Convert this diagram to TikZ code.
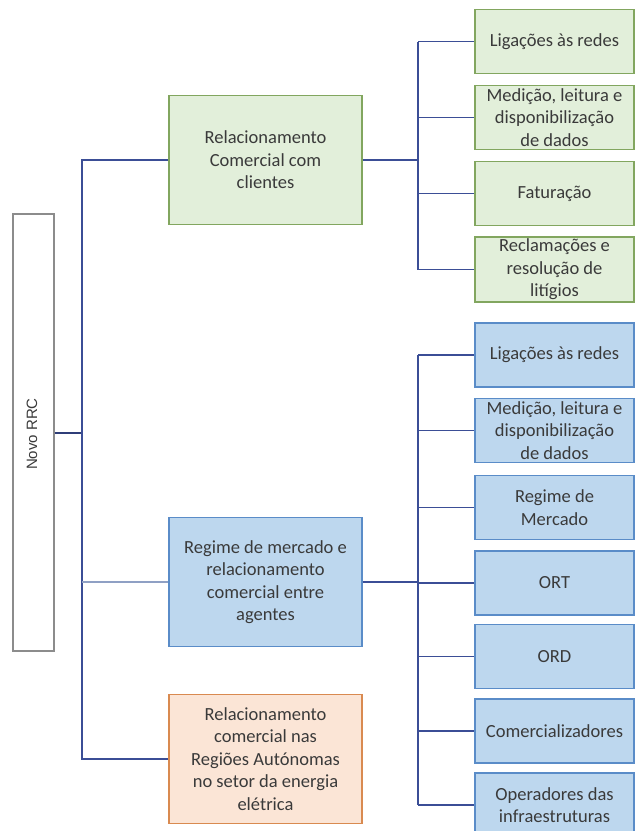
\documentclass[tikz,border=0pt]{standalone}
\usepackage{fontspec}
\setmainfont{Carlito}
\newfontfamily\rootfont{Liberation Sans}
\usepackage{tikz}

\definecolor{linkblue}{HTML}{3B4E96}
\definecolor{linkpale}{HTML}{8FA0C4}
\definecolor{greenfill}{HTML}{E2EFDA}
\definecolor{greenedge}{HTML}{82A65F}
\definecolor{bluefill}{HTML}{BDD7EE}
\definecolor{blueedge}{HTML}{5A8CC8}
\definecolor{orangefill}{HTML}{FBE5D6}
\definecolor{orangeedge}{HTML}{D98A50}
\definecolor{txt}{HTML}{3A3A3A}

\tikzset{
  box/.style={draw, line width=1.3pt, align=center, inner sep=2pt, text=txt,
    font=\fontsize{18.5}{22.4}\selectfont},
  midbox/.style={box, minimum width=193pt, minimum height=129pt},
  leafbox/.style={box, minimum width=159pt, minimum height=64pt},
  greenbox/.style={fill=greenfill, draw=greenedge},
  bluebox/.style={fill=bluefill, draw=blueedge},
  orangebox/.style={fill=orangefill, draw=orangeedge},
  link/.style={draw=linkblue, line width=1.2pt}
}

\begin{document}
\begin{tikzpicture}[x=1pt, y=-1pt]
    \useasboundingbox (0,0) rectangle (635,831);

    % Root
    \node[draw=black!45, line width=1.2pt, minimum width=41pt, minimum height=437pt,
      inner sep=0pt] (root) at (33.5, 432.5) {};
    \node[rotate=90, inner sep=0pt, text=txt] (rootlabel) at (32, 434)
      {\rootfont\fontsize{15}{18}\selectfont Novo RRC};

    % Second level
    \node[midbox, greenbox] (rcc) at (265.5, 160) {Relacionamento\\Comercial com\\clientes};
    \node[midbox, bluebox] (rm) at (265.5, 582) {Regime de mercado e\\relacionamento\\comercial entre\\agentes};
    \node[midbox, orangebox] (ra) at (265.5, 759) {Relacionamento\\comercial nas\\Regiões Autónomas\\no setor da energia\\elétrica};

    % Leaves, green branch
    \node[leafbox, greenbox] (g1) at (554.5, 41.5) {Ligações às redes};
    \node[leafbox, greenbox] (g2) at (554.5, 117.5) {Medição, leitura e\\disponibilização\\de dados};
    \node[leafbox, greenbox] (g3) at (554.5, 193.5) {Faturação};
    \node[leafbox, greenbox] (g4) at (554.5, 269.5) {Reclamações e\\resolução de\\litígios};

    % Leaves, blue branch
    \node[leafbox, bluebox] (b1) at (554.5, 355) {Ligações às redes};
    \node[leafbox, bluebox] (b2) at (554.5, 430.5) {Medição, leitura e\\disponibilização\\de dados};
    \node[leafbox, bluebox] (b3) at (554.5, 507.5) {Regime de\\Mercado};
    \node[leafbox, bluebox] (b4) at (554.5, 583) {ORT};
    \node[leafbox, bluebox] (b5) at (554.5, 656.5) {ORD};
    \node[leafbox, bluebox] (b6) at (554.5, 731) {Comercializadores};
    \node[leafbox, bluebox] (b7) at (554.5, 805) {Operadores das\\infraestruturas};

    % Bus lines
    \coordinate (busL) at (82, 0);
    \coordinate (busR) at (418, 0);

    % Root to second level
    \draw[draw=linkblue!80!black, line width=2pt] (root.east) -- (root.east -| busL);
    \draw[link] (rcc.west) -- (rcc.west -| busL) -- (ra.west -| busL) -- (ra.west);
    \draw[draw=linkpale, line width=1.2pt] (rm.west -| busL) -- (rm.west);

    % Second level to leaves
    \draw[link] (rcc.east) -- (rcc.east -| busR);
    \draw[link] (g1.west -| busR) -- (g4.west -| busR);
    \foreach \n in {g1,g2,g3,g4}
      \draw[link] (\n.west -| busR) -- (\n.west);
    \draw[link] (rm.east) -- (rm.east -| busR);
    \draw[link] (b1.west -| busR) -- (b7.west -| busR);
    \foreach \n in {b1,b2,b3,b4,b5,b6,b7}
      \draw[link] (\n.west -| busR) -- (\n.west);
\end{tikzpicture}
\end{document}
